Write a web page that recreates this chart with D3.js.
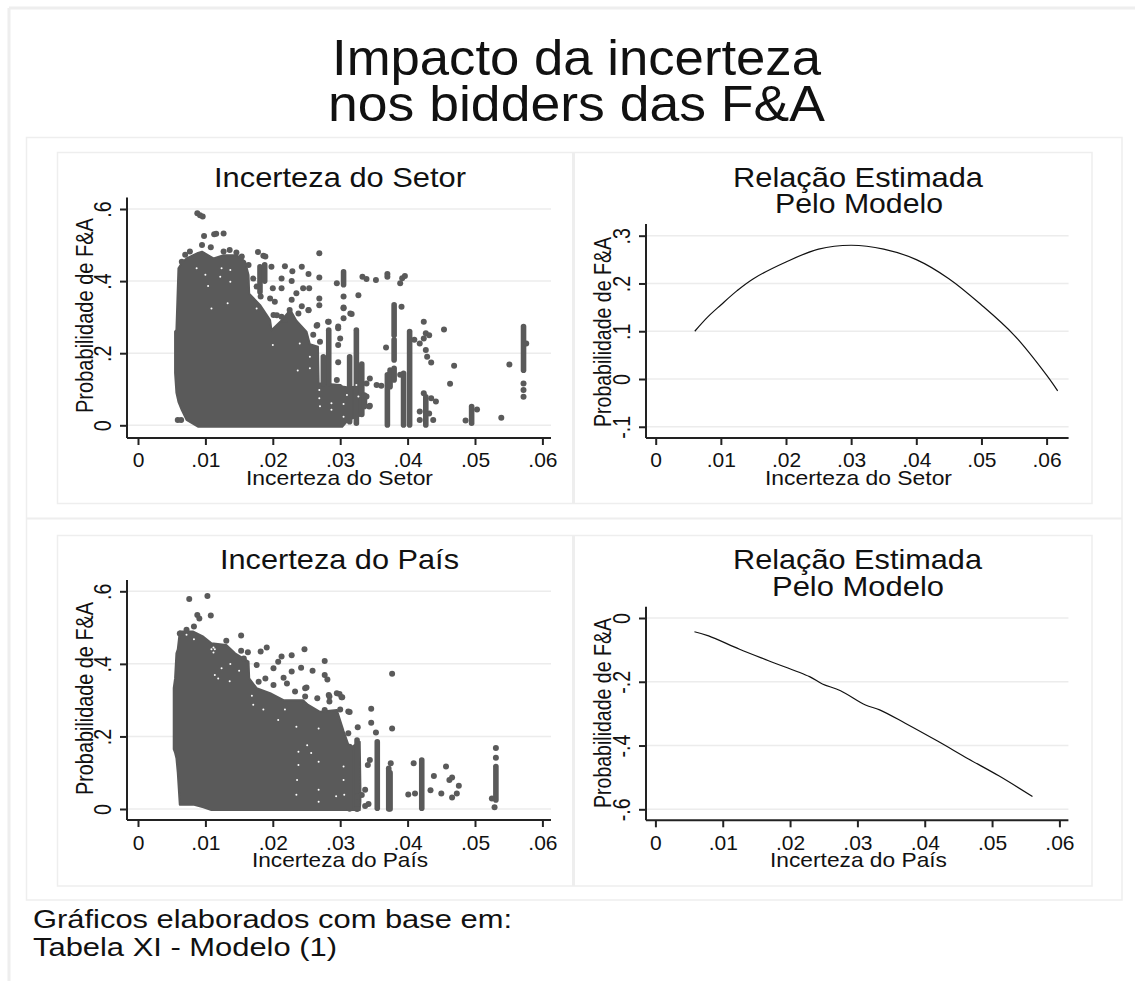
<!DOCTYPE html>
<html><head><meta charset="utf-8">
<style>html,body{margin:0;padding:0;background:#fff}svg{display:block}text{font-family:"Liberation Sans",Arial,sans-serif;fill:#111}</style>
<script src="https://cdn.jsdelivr.net/npm/d3@7"></script></head><body>
<script>
// ---------- Data ----------
const xTicks = [0,.01,.02,.03,.04,.05,.06];
const yTicksScatter = [0,.2,.4,.6];
const yTicksSetor = [-.1,0,.1,.2,.3];
const yTicksPais = [-.6,-.4,-.2,0];

const setorMassX   = [.0055,.0057,.0060,.0065,.0072,.0089,.0095,.0112,.0127,.0146,.0159,.0164,.0165,.0181,.0196,.0198,.0211,.0226,.0235,.0250,.0255,.0267,.0268,.0300,.0303,.0312,.0334];
const setorMassTop = [.26,.265,.4355,.45,.463,.478,.4815,.463,.472,.472,.454,.417,.365,.334,.292,.264,.287,.32,.29,.26,.225,.218,.1165,.112,.108,.105,.11];
const setorMassBot = [.145,.09,.065,.042,.015,-.004,-.004,-.004,-.004,-.004,-.004,-.004,-.004,-.004,-.004,-.004,-.004,-.004,-.004,-.004,-.004,-.004,-.004,-.004,-.004,.015,.03];

const setorDots = [[.0092,.583],[.0088,.588],[.0096,.579],[.0098,.525],[.0113,.53],[.0116,.531],[.0127,.532],[.0095,.5],[.0108,.494],[.0077,.482],[.007,.473],[.0065,.454],[.0127,.482],[.0136,.486],[.0146,.479],[.0154,.468],[.0164,.445],[.0178,.481],[.0186,.47],[.0189,.468],[.0171,.407],[.0176,.385],[.0182,.357],[.0198,.44],[.02,.38],[.0213,.407],[.0213,.38],[.0218,.441],[.0243,.44],[.0229,.427],[.0228,.4],[.0253,.42],[.0245,.38],[.0254,.38],[.0235,.366],[.0196,.352],[.0203,.343],[.0228,.348],[.0243,.33],[.0253,.319],[.0225,.32],[.0218,.292],[.0206,.305],[.0238,.31],[.0269,.477],[.0269,.41],[.0269,.352],[.0269,.333],[.0295,.394],[.0305,.357],[.0305,.325],[.0315,.31],[.0265,.276],[.0282,.287],[.0297,.274],[.0201,.306],[.0213,.301],[.0253,.32],[.0305,.327],[.0317,.309],[.0305,.297],[.0283,.287],[.0266,.278],[.0297,.269],[.03,.241],[.0297,.223],[.027,.232],[.026,.251],[.0297,.175],[.0295,.126],[.0343,.052],[.0339,.08],[.0354,.112],[.0368,.216],[.0327,.361],[.0333,.412],[.0339,.406],[.0353,.403],[.037,.42],[.037,.412],[.0389,.394],[.0392,.408],[.0396,.414],[.0344,.13],[.0344,.054],[.0339,.116],[.0361,.11],[.0391,.329],[.0389,.14],[.041,.237],[.0418,.227],[.0424,.241],[.0427,.255],[.0432,.25],[.0424,.287],[.0427,.209],[.0429,.19],[.0435,.174],[.0424,.089],[.0418,.038],[.0435,.075],[.0442,.066],[.0418,.015],[.0438,.015],[.0432,.033],[.0454,.266],[.0469,.165],[.0463,.115],[.0486,.013],[.0503,.044],[.0539,.021],[.0551,.169],[.0576,.227],[.0572,.116],[.0572,.098],[.0572,.079],[.0059,.015],[.0064,.015]];
const setorStrips = [[.0181,.37,.44],[.0188,.4,.445],[.0305,.39,.426],[.0283,.116,.264],[.0275,.116,.19],[.0324,.006,.264],[.0314,.01,.19],[.0332,.03,.17],[.0336,.052,.084],[.037,.001,.14],[.0374,.107,.153],[.038,.126,.158],[.038,.181,.237],[.038,.25,.334],[.0394,.001,.144],[.0403,.001,.26],[.0427,.001,.079],[.0495,.006,.052],[.0572,.153,.274]];
const setorGaps = [[.0087,.4355],[.01,.4175],[.0122,.412],[.0137,.4305],[.0137,.398],[.0124,.4355],[.0104,.3865],[.0109,.324],[.0133,.3385],[.0176,.324],[.02,.2227],[.0237,.152],[.024,.227],[.0255,.19],[.0255,.158],[.0269,.098],[.0269,.075],[.027,.053],[.0287,.061],[.0305,.059],[.031,.084],[.0327,.08],[.0324,.112],[.0305,.024],[.0287,.043]];

const paisMassX   = [.0053,.0055,.0057,.0059,.0062,.0082,.0097,.0109,.0131,.0144,.0164,.0165,.0176,.0196,.0216,.0245,.0250,.0270,.0295,.0305,.0314,.0329,.0330];
const paisMassTop = [.333,.36,.429,.44,.489,.489,.475,.457,.452,.429,.406,.36,.333,.319,.3,.3,.29,.268,.273,.215,.167,.185,.06];
const paisMassBot = [.165,.155,.14,.1,.012,.012,.005,-.003,-.003,-.003,-.003,-.003,-.003,-.003,-.003,-.003,-.003,-.003,-.003,-.003,-.003,-.003,.02];

const paisDots = [[.0076,.579],[.0103,.587],[.0088,.535],[.0091,.525],[.0108,.533],[.0083,.503],[.0062,.484],[.0072,.494],[.0153,.478],[.0131,.464],[.0153,.436],[.0163,.432],[.0157,.415],[.0191,.445],[.0182,.434],[.0247,.44],[.0228,.424],[.0213,.42],[.0208,.406],[.0201,.388],[.0277,.408],[.0242,.389],[.0259,.381],[.0277,.369],[.0281,.357],[.0228,.379],[.0216,.362],[.0221,.346],[.0179,.351],[.0189,.36],[.0201,.342],[.0176,.397],[.0233,.324],[.0248,.333],[.0248,.31],[.0266,.305],[.0284,.31],[.0284,.296],[.0295,.319],[.0302,.308],[.0277,.273],[.03,.274],[.0312,.269],[.0248,.286],[.0346,.276],[.0346,.238],[.0326,.225],[.0377,.373],[.0377,.222],[.0353,.211],[.0312,.209],[.0314,.267],[.0299,.317],[.0303,.308],[.0283,.314],[.025,.335],[.0341,.121],[.0344,.135],[.0375,.126],[.0409,.126],[.0401,.04],[.0411,.043],[.0434,.052],[.0439,.091],[.045,.043],[.0457,.117],[.0462,.08],[.0466,.087],[.0466,.032],[.0473,.043],[.0476,.064],[.0531,.141],[.0531,.168],[.0525,.029],[.0529,.005],[.0337,.053],[.0332,.0387],[.0342,.014],[.0337,.0085],[.0325,.034],[.0325,.0]];
const paisStrips = [[.0355,.002,.185],[.0374,0,.1],[.0372,0,.112],[.0325,.006,.19],[.0314,0,.172],[.0421,.002,.135],[.0531,.025,.117]];
const paisGaps = [[.0109,.44],[.0114,.44],[.0112,.431],[.0112,.445],[.0072,.48],[.0083,.468],[.0124,.388],[.0114,.369],[.0119,.36],[.0136,.352],[.0137,.3995],[.015,.381],[.0169,.312],[.0171,.287],[.0186,.274],[.0218,.274],[.0238,.158],[.0238,.121],[.0236,.08],[.0235,.039],[.0268,.222],[.0268,.13],[.0268,.053],[.0268,.02],[.0305,.117],[.0305,.08],[.0306,.039],[.0294,.035],[.0251,.176],[.0257,.154],[.0208,.2455],[.0235,.227]];

const curveSetorX = [.006,.008,.01,.0125,.015,.02,.025,.03,.035,.04,.045,.05,.055,.06,.0617];
const curveSetorY = [.1,.13,.155,.185,.21,.245,.272,.28,.272,.25,.21,.155,.092,.008,-.025];
const curvePaisX = [.0058,.0079,.0125,.0168,.0229,.0248,.0275,.0312,.0333,.0371,.0419,.0465,.051,.056];
const curvePaisY = [-.043,-.056,-.098,-.134,-.184,-.207,-.228,-.273,-.288,-.33,-.386,-.442,-.495,-.56];

// ---------- Drawing ----------
const W=1135,H=981,FRAME="#eeeeee",GREY="#5a5a5a",AX="#222";
const svg=d3.select("body").append("svg").attr("width",W).attr("height",H);
const fmt=d=>d===0?"0":String(d).replace("0.",".");
function box(x0,y0,x1,y1,w){svg.append("rect").attr("x",x0).attr("y",y0).attr("width",x1-x0).attr("height",y1-y0).attr("fill","none").attr("stroke",FRAME).attr("stroke-width",w||1.5);}
function line(x0,y0,x1,y1,w){svg.append("line").attr("x1",x0).attr("y1",y0).attr("x2",x1).attr("y2",y1).attr("stroke",FRAME).attr("stroke-width",w||2);}
function label(str,x0,x1,base,size){svg.append("text").attr("x",x0).attr("y",base).attr("font-size",size).attr("textLength",x1-x0).attr("lengthAdjust","spacingAndGlyphs").text(str);}
function vlabel(str,yTop,yBot,base,size){svg.append("text").attr("transform",`translate(${base},${yBot}) rotate(-90)`).attr("font-size",size).attr("textLength",yBot-yTop).attr("lengthAdjust","spacingAndGlyphs").text(str);}

line(9,8,1135,8,3); line(9,8,9,981,3);
box(26.5,137.5,1122,900);
line(26,518.5,1122,518.5,2);
line(573.5,152,573.5,504,3); line(573.5,535,573.5,886,3);
box(57.5,152.5,1092,503.5); box(57.5,535.5,1092,886);

label("Impacto da incerteza",332,821,75,50);
label("nos bidders das F&A",328,825,121,50);
label("Gráficos elaborados com base em:",33,512,928,25);
label("Tabela XI - Modelo (1)",33,337,956,25);

function panel(p){
  const x=d3.scaleLinear().domain([0,.06]).range([p.x0,p.x6]);
  const y=d3.scaleLinear().domain(p.yDom).range(p.yRange);
  const g=svg.append("g");
  g.selectAll("line.grid").data(p.yTicks).join("line").attr("x1",p.axX).attr("x2",p.axR)
    .attr("y1",d=>y(d)).attr("y2",d=>y(d)).attr("stroke","#ececec").attr("stroke-width",1.5);
  const ax=g.append("g").attr("transform",`translate(0,${p.axB})`).call(d3.axisBottom(x).tickValues(xTicks).tickFormat(fmt).tickSizeOuter(0).tickSize(7));
  const ay=g.append("g").attr("transform",`translate(${p.axX},0)`).call(d3.axisLeft(y).tickValues(p.yTicks).tickFormat(fmt).tickSizeOuter(0).tickSize(7));
  ax.select(".domain").attr("d",`M${p.axX},0H${p.axR}`);
  ay.select(".domain").attr("d",`M0,${p.axT}V${p.axB}`);
  [ax,ay].forEach(a=>{a.selectAll(".domain,.tick line").attr("stroke",AX).attr("stroke-width",2);a.attr("font-family",null).attr("font-size",null);});
  ax.selectAll("text").attr("font-size",21).attr("dy",null).attr("y",p.tickBase-p.axB);
  ay.selectAll("text").attr("font-size",24).attr("x",null).attr("dy",null).attr("text-anchor","middle")
    .attr("transform",`translate(${p.yBase-p.axX},0) rotate(-90) scale(.82,1)`).attr("y",0);
  if(p.massX){
    const rows=p.massX.map((v,i)=>({x:v,t:p.massTop[i],b:p.massBot[i]}));
    g.append("path").attr("d",d3.area().x(d=>x(d.x)).y0(d=>y(d.b)).y1(d=>y(d.t))(rows))
      .attr("fill",GREY).attr("stroke",GREY).attr("stroke-width",2).attr("stroke-linejoin","round");
    g.selectAll("line.strip").data(p.strips).join("line").attr("x1",d=>x(d[0])).attr("x2",d=>x(d[0]))
      .attr("y1",d=>y(d[1])).attr("y2",d=>y(d[2])).attr("stroke",GREY).attr("stroke-width",5.6).attr("stroke-linecap","round");
    g.selectAll("circle.dot").data(p.dots).join("circle").attr("class","dot").attr("cx",d=>x(d[0])).attr("cy",d=>y(d[1])).attr("r",3).attr("fill",GREY);
    g.selectAll("circle.gap").data(p.gaps).join("circle").attr("class","gap").attr("cx",d=>x(d[0])).attr("cy",d=>y(d[1])).attr("r",1).attr("fill","#fff");
  } else {
    const rows=p.lineX.map((v,i)=>[v,p.lineY[i]]);
    g.append("path").attr("d",d3.line().curve(d3.curveCatmullRom).x(d=>x(d[0])).y(d=>y(d[1]))(rows)).attr("fill","none").attr("stroke","#111").attr("stroke-width",1.2);
  }
  p.titles.forEach(t=>label(t[0],t[1],t[2],t[3],28));
  label(p.xLabel,p.xl0,p.xl1,p.xlBase,21);
  vlabel("Probabilidade de F&A",p.vTop,p.vBot,p.vBase,23);
}

panel({x0:138,x6:542.4,yDom:[0,.6],yRange:[425.3,209],yTicks:yTicksScatter,axX:127,axR:551,axT:197.5,axB:438,tickBase:467,yBase:111,
  massX:setorMassX,massTop:setorMassTop,massBot:setorMassBot,dots:setorDots,strips:setorStrips,gaps:setorGaps,
  titles:[["Incerteza do Setor",214,466,187]],xLabel:"Incerteza do Setor",xl0:246,xl1:433,xlBase:485,vTop:218,vBot:413,vBase:92.5});
panel({x0:655.7,x6:1046.6,yDom:[0,.3],yRange:[379,235.7],yTicks:yTicksSetor,axX:646,axR:1068.6,axT:224,axB:438,tickBase:467,yBase:630,
  lineX:curveSetorX,lineY:curveSetorY,
  titles:[["Relação Estimada",733,983,187],["Pelo Modelo",775,943,213]],xLabel:"Incerteza do Setor",xl0:765,xl1:952,xlBase:485,vTop:237,vBot:427,vBase:611});
panel({x0:138,x6:542.4,yDom:[0,.6],yRange:[809,591.3],yTicks:yTicksScatter,axX:127,axR:551,axT:580,axB:820,tickBase:850,yBase:111,
  massX:paisMassX,massTop:paisMassTop,massBot:paisMassBot,dots:paisDots,strips:paisStrips,gaps:paisGaps,
  titles:[["Incerteza do País",220,459,569]],xLabel:"Incerteza do País",xl0:252,xl1:428,xlBase:867,vTop:602,vBot:795,vBase:92.5});
panel({x0:655.4,x6:1059.4,yDom:[-.6,0],yRange:[809.3,618],yTicks:yTicksPais,axX:646,axR:1068.4,axT:606.7,axB:820.3,tickBase:850,yBase:630,
  lineX:curvePaisX,lineY:curvePaisY,
  titles:[["Relação Estimada",733,982,569],["Pelo Modelo",772,944,596]],xLabel:"Incerteza do País",xl0:770,xl1:947,xlBase:867,vTop:618,vBot:808,vBase:611});
</script></body></html>
